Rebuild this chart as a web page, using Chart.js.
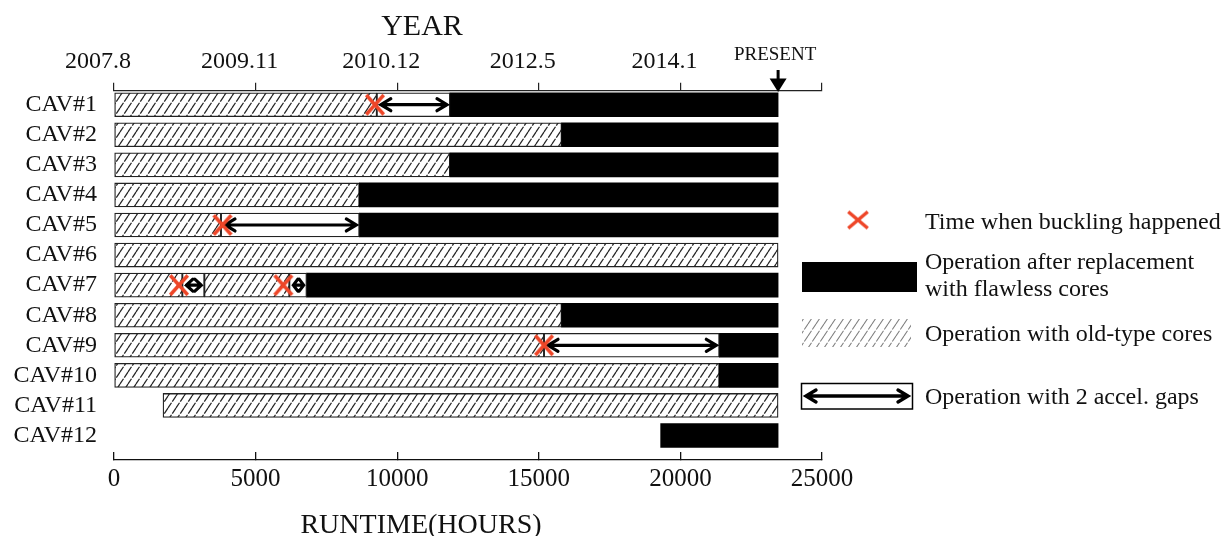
<!DOCTYPE html>
<html>
<head>
<meta charset="utf-8">
<script src="https://cdn.jsdelivr.net/npm/chart.js@4.4.1/dist/chart.umd.min.js"></script>
<style>
html,body{margin:0;padding:0;background:#fff;}
#wrap{width:1232px;height:536px;}
</style>
</head>
<body>
<div id="wrap"><canvas id="c" width="1232" height="536"></canvas></div>
<script>
// ---------------- data ----------------
const cavities = ['CAV#1','CAV#2','CAV#3','CAV#4','CAV#5','CAV#6','CAV#7','CAV#8','CAV#9','CAV#10','CAV#11','CAV#12'];
const presentHours = 23450;
// operation with old-type cores [start, end] (hours)
const oldCores      = [[0,9280],[0,15808],[0,11864],[0,8663],[0,3778],[0,23450],[0,2413],[0,15808],[0,15184],[0,21374],[1730,23450],null];
const oldCoresLater = [null,null,null,null,null,null,[3190,6191],null,null,null,null,null];
// operation with 2 accel. gaps
const twoGaps       = [[9280,11864],null,null,null,[3778,8663],null,[2413,3190],null,[15184,21374],null,null,null];
const twoGapsLater  = [null,null,null,null,null,null,[6191,6803],null,null,null,null,null];
// operation after replacement with flawless cores
const flawless      = [[11864,23450],[15808,23450],[11864,23450],[8663,23450],[8663,23450],null,[6803,23450],[15808,23450],[21374,23450],[21374,23450],null,[19303,23450]];
// buckling events
const bucklingCav   = [1,5,7,7,9];
const bucklingHours = [9216,3831,2295,5979,15184];
// axes
const runtimeTicks  = [0,5000,10000,15000,20000,25000];
const yearLabels    = ['2007.8','2009.11','2010.12','2012.5','2014.1',''];
const legendTexts   = ['Time when buckling happened','Operation after replacement','with flawless cores','Operation with old-type cores','Operation with 2 accel. gaps'];

// ---------------- helpers ----------------
const SERIF = '"Liberation Serif","Times New Roman",serif';
const canvas = document.getElementById('c');
const mainCtx = canvas.getContext('2d');

function makeHatch(color, lw) {
  const t = document.createElement('canvas');
  t.width = 8; t.height = 12;
  const g = t.getContext('2d');
  g.fillStyle = '#fff'; g.fillRect(0, 0, 8, 12);
  g.strokeStyle = color; g.lineWidth = lw;
  g.beginPath();
  for (const dx of [-8, 0, 8]) {
    g.moveTo(dx + 0, 12); g.lineTo(dx + 3.5, 6.75);
    g.moveTo(dx + 4.3, 5.55); g.lineTo(dx + 8, 0);
  }
  g.stroke();
  return mainCtx.createPattern(t, 'repeat');
}
const hatch = makeHatch('#262626', 1.25);
const hatchLight = makeHatch('#808080', 1.1);

function makeCross(w, h, lw, color) {
  const t = document.createElement('canvas');
  t.width = w; t.height = h;
  const g = t.getContext('2d');
  g.strokeStyle = color; g.lineWidth = lw; g.lineCap = 'butt';
  const p = lw / 2 + 0.5;
  g.beginPath();
  g.moveTo(p, p); g.lineTo(w - p, h - p);
  g.moveTo(w - p, p); g.lineTo(p, h - p);
  g.stroke();
  return t;
}
const RED = '#ee4628';
const crossImg = makeCross(22, 24, 3.5, RED);
const crossLegend = makeCross(24, 21, 3.5, RED);

function toPoints(arr) {
  return arr.map((r, i) => r ? {x: r, y: i + 1} : null).filter(Boolean);
}

function dblArrow(ctx, x1, x2, y, head, half, lw) {
  ctx.save();
  ctx.strokeStyle = '#000'; ctx.lineWidth = lw;
  ctx.lineCap = 'round'; ctx.lineJoin = 'miter';
  ctx.beginPath();
  ctx.moveTo(x1, y); ctx.lineTo(x2, y);
  ctx.moveTo(x1 + head, y - half); ctx.lineTo(x1, y); ctx.lineTo(x1 + head, y + half);
  ctx.moveTo(x2 - head, y - half); ctx.lineTo(x2, y); ctx.lineTo(x2 - head, y + half);
  ctx.stroke();
  ctx.restore();
}

// ---------------- plugin for arrows, titles, legend ----------------
const decor = {
  id: 'decor',
  afterDatasetDraw(chart, args) {
    const ds = chart.data.datasets[args.index];
    if (!ds.arrows) return;
    const ctx = chart.ctx;
    args.meta.data.forEach(el => {
      const p = el.getProps(['x', 'base', 'y'], true);
      const a = Math.min(p.x, p.base) + 4, b = Math.max(p.x, p.base) - 3;
      const len = b - a;
      const head = Math.min(10, len / 2.3);
      dblArrow(ctx, a, b, p.y, head, 6, 3.2);
    });
  },
  afterDraw(chart) {
    const ctx = chart.ctx;
    const xs = chart.scales.x;
    ctx.save();
    ctx.fillStyle = '#111';
    ctx.textAlign = 'center';
    ctx.textBaseline = 'alphabetic';
    ctx.font = '30px ' + SERIF;
    ctx.fillText('YEAR', 422, 35);
    ctx.font = '28px ' + SERIF;
    ctx.fillText('RUNTIME(HOURS)', 421, 533);
    // present marker
    const px = xs.getPixelForValue(presentHours);
    ctx.font = '19px ' + SERIF;
    ctx.fillText('PRESENT', px - 3, 60);
    ctx.strokeStyle = '#000'; ctx.lineWidth = 3;
    ctx.beginPath(); ctx.moveTo(px, 70); ctx.lineTo(px, 82); ctx.stroke();
    ctx.fillStyle = '#000';
    ctx.beginPath(); ctx.moveTo(px - 8.5, 78.5); ctx.lineTo(px + 8.5, 78.5); ctx.lineTo(px, 92); ctx.closePath(); ctx.fill();

    // legend
    ctx.drawImage(crossLegend, 858 - 12, 220 - 10.5);
    ctx.fillStyle = '#000';
    ctx.fillRect(802, 262, 115, 30);
    ctx.fillStyle = hatchLight;
    ctx.fillRect(802, 319, 109, 28);
    ctx.strokeStyle = '#000'; ctx.lineWidth = 1.5;
    ctx.strokeRect(801.5, 383.5, 111, 25.5);
    dblArrow(ctx, 806, 908, 396, 10, 6, 3.4);

    ctx.fillStyle = '#111';
    ctx.textAlign = 'left';
    ctx.font = '24px ' + SERIF;
    ctx.fillText(legendTexts[0], 925, 228.5);
    ctx.fillText(legendTexts[1], 925, 269);
    ctx.fillText(legendTexts[2], 925, 296);
    ctx.fillText(legendTexts[3], 925, 341);
    ctx.fillText(legendTexts[4], 925, 404);
    ctx.restore();
  }
};

const barCommon = {
  type: 'bar',
  indexAxis: 'y',
  grouped: false,
  barThickness: 24,
  borderSkipped: false,
  xAxisID: 'x',
  yAxisID: 'y'
};

new Chart(canvas, {
  type: 'bar',
  data: {
    datasets: [
      {
        type: 'scatter', label: 'Time when buckling happened',
        data: bucklingHours.map((h, i) => ({x: h, y: bucklingCav[i]})),
        pointStyle: crossImg, pointRadius: 11, xAxisID: 'x', yAxisID: 'y', showLine: false
      },
      Object.assign({}, barCommon, {label: 'Operation with 2 accel. gaps', data: toPoints(twoGaps), arrows: true,
        backgroundColor: '#fff', borderColor: '#222', borderWidth: 1.3}),
      Object.assign({}, barCommon, {label: 'Operation with 2 accel. gaps (2)', data: toPoints(twoGapsLater), arrows: true,
        backgroundColor: '#fff', borderColor: '#222', borderWidth: 1.3}),
      Object.assign({}, barCommon, {label: 'Operation after replacement with flawless cores', data: toPoints(flawless),
        backgroundColor: '#000', borderColor: '#000', borderWidth: 0}),
      Object.assign({}, barCommon, {label: 'Operation with old-type cores', data: toPoints(oldCores),
        backgroundColor: hatch, borderColor: '#222', borderWidth: 1.3}),
      Object.assign({}, barCommon, {label: 'Operation with old-type cores (2)', data: toPoints(oldCoresLater),
        backgroundColor: hatch, borderColor: '#222', borderWidth: 1.3})
    ]
  },
  options: {
    responsive: false,
    animation: false,
    devicePixelRatio: 1,
    layout: {padding: {left: 0, right: 410, top: 0, bottom: 0}},
    plugins: {legend: {display: false}, tooltip: {enabled: false}},
    scales: {
      x: {
        type: 'linear', position: 'bottom', min: 0, max: 25000, offset: false, beginAtZero: false,
        afterBuildTicks: s => { s.ticks = runtimeTicks.map(v => ({value: v})); },
        afterFit: s => { s.height = 76; },
        border: {display: true, color: '#111', width: 1.3},
        grid: {offset: false, drawOnChartArea: false, drawTicks: true, tickLength: -8, color: '#111', lineWidth: 1.3},
        ticks: {autoSkip: false, maxRotation: 0, padding: 12, color: '#111',
          font: {family: SERIF, size: 25}, callback: v => String(v)}
      },
      x2: {
        type: 'linear', position: 'top', min: 0, max: 25000, offset: false, beginAtZero: false,
        afterBuildTicks: s => { s.ticks = runtimeTicks.map(v => ({value: v})); },
        afterFit: s => { s.height = 90.7; },
        border: {display: true, color: '#222', width: 1.2},
        grid: {offset: false, drawOnChartArea: false, drawTicks: true, tickLength: 8, color: '#222', lineWidth: 1.2},
        ticks: {autoSkip: false, maxRotation: 0, padding: 7, labelOffset: -16, color: '#111',
          font: {family: SERIF, size: 24}, callback: (v, i) => yearLabels[i]}
      },
      y: {
        type: 'linear', position: 'left', reverse: true, min: 0.534, max: 12.815, offset: false, beginAtZero: false,
        afterBuildTicks: s => { s.ticks = cavities.map((c, i) => ({value: i + 1})); },
        afterFit: s => { s.width = 114; },
        border: {display: false},
        grid: {offset: false, display: false, drawTicks: false},
        ticks: {autoSkip: false, padding: 17, color: '#111',
          font: {family: SERIF, size: 24}, callback: (v, i) => cavities[i]}
      }
    }
  },
  plugins: [decor]
});
</script>
</body>
</html>
